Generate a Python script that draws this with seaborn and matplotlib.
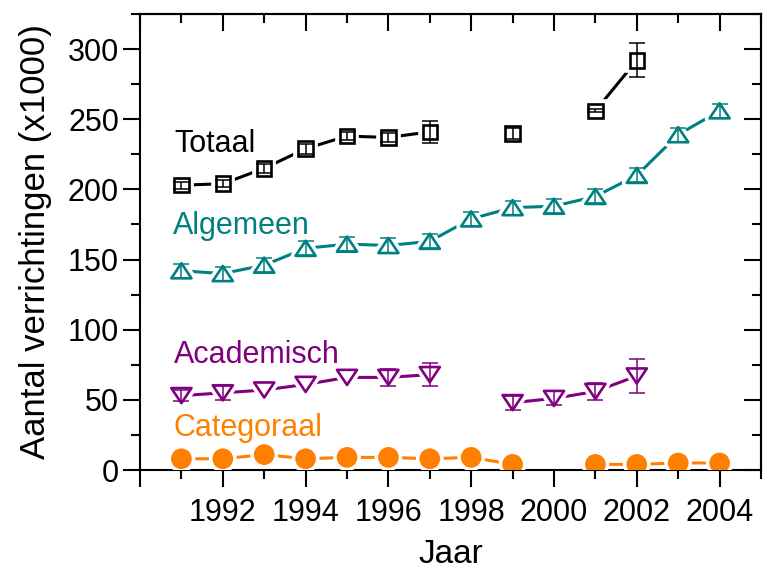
import numpy as np
import pandas as pd
import matplotlib
matplotlib.use("Agg")
import matplotlib.pyplot as plt
import matplotlib.patheffects as pe
from matplotlib.path import Path
from matplotlib.ticker import FixedLocator, MultipleLocator
import seaborn as sns

nan = np.nan

# Years on the x axis
years = list(range(1991, 2005))

# Yearly counts (x1000) per category, NaN where no figure is available
totaal = [203, 204, 215, 229, 238, 237, 241, nan, 240, nan, 256, 292, nan, nan]
totaal_err = [2.5, 2.5, 3, 3.5, 3, 3.5, 8, nan, 4, nan, 1, 12, nan, nan]

algemeen = [142, 140, 146, 158, 161, 160, 163, 179, 187, 188, 195, 210, 239, 256]
algemeen_err = [5, 5, 5, 5, 5, 5, 5, 5, 5, 5, 5, 5, 5, 5]

academisch = [53, 55, 57, 61, 66, 66, 68, nan, 48, 51, 56, 67, nan, nan]
academisch_err = [4, 5, 0, 0, 0, 6, 8, nan, 5, 5, 6, 12, nan, nan]

categoraal = [8, 8, 11, 8, 9, 9, 8, 9, 4, nan, 4, 4, 5, 5]
categoraal_err = [0] * 14

series_names = ["Totaal", "Algemeen", "Academisch", "Categoraal"]
x_tick_values = [1990, 1992, 1994, 1996, 1998, 2000, 2002, 2004]
x_tick_labels = ["", "1992", "1994", "1996", "1998", "2000", "2002", "2004"]
y_tick_values = [0, 50, 100, 150, 200, 250, 300]

# Label anchor (year, value at text baseline) for each series name
label_pos = {"Totaal": (1990.83, 227), "Algemeen": (1990.8, 168),
             "Academisch": (1990.83, 76), "Categoraal": (1990.8, 24)}


def long_frame(name, vals, errs):
    v = np.asarray(vals, dtype=float)
    # a new segment starts after every gap so lines are broken there
    seg = np.cumsum(np.isnan(v))
    return pd.DataFrame({"series": name, "year": years, "value": v,
                         "err": np.asarray(errs, dtype=float), "seg": seg})


df = pd.concat([
    long_frame("Totaal", totaal, totaal_err),
    long_frame("Algemeen", algemeen, algemeen_err),
    long_frame("Academisch", academisch, academisch_err),
    long_frame("Categoraal", categoraal, categoraal_err),
], ignore_index=True)

tri_up = Path([(0, 0.75), (-1, -0.75), (1, -0.75), (0, 0.75)], closed=True)
tri_down = Path([(0, -0.75), (-1, 0.75), (1, 0.75), (0, -0.75)], closed=True)

style = {
    "Totaal": dict(color="#000000", marker="s", ms=10.5, face="white", err=True),
    "Algemeen": dict(color="#008080", marker=tri_up, ms=14.5, face="white", err=True),
    "Academisch": dict(color="#800080", marker=tri_down, ms=14.5, face="white", err=True),
    "Categoraal": dict(color="#FF8000", marker="o", ms=13, face="#FF8000", err=False),
}

sns.set_theme(style="ticks")
plt.rcParams["font.family"] = ["Liberation Sans", "DejaVu Sans"]
plt.rcParams["text.color"] = "black"
plt.rcParams["axes.labelcolor"] = "black"
FS = 22

fig = plt.figure(figsize=(7.63, 5.72), dpi=100)
ax = fig.add_axes([140 / 763, 102 / 572, 621 / 763, 456 / 572])

halo = [pe.Stroke(linewidth=7, foreground="white"), pe.Normal()]

for name in series_names:
    st = style[name]
    d = df[df["series"] == name].dropna(subset=["value"])
    sns.lineplot(data=d, x="year", y="value", units="seg", estimator=None,
                 color=st["color"], linewidth=2.2, ax=ax, legend=False,
                 zorder=2)
    sns.lineplot(data=d, x="year", y="value", units="seg", estimator=None,
                 color=st["color"], linestyle="none", marker=st["marker"],
                 markersize=st["ms"], markerfacecolor=st["face"],
                 markeredgecolor=st["color"], markeredgewidth=1.9,
                 path_effects=halo, ax=ax, legend=False, zorder=3)
    if st["err"]:
        e = d[d["err"] > 0]
        ax.errorbar(e["year"], e["value"], yerr=e["err"], fmt="none",
                    ecolor=st["color"], elinewidth=1.1, capsize=5.5,
                    capthick=1.1, zorder=4)
    lx, ly = label_pos[name]
    ax.text(lx, ly, name, color=st["color"], fontsize=FS, va="baseline",
            ha="left")

ax.set_xlim(1990, 2005)
ax.set_ylim(0, 325)
ax.xaxis.set_major_locator(FixedLocator(x_tick_values))
ax.set_xticklabels(x_tick_labels)
ax.xaxis.set_minor_locator(MultipleLocator(1))
ax.yaxis.set_major_locator(FixedLocator(y_tick_values))
ax.yaxis.set_minor_locator(MultipleLocator(25))

ax.set_xlabel("Jaar", fontsize=24, labelpad=8, color="black")
ax.set_ylabel("Aantal verrichtingen (x1000)", fontsize=25, labelpad=11,
              color="black")

for sp in ax.spines.values():
    sp.set_visible(True)
    sp.set_linewidth(1.5)
    sp.set_color("black")

ax.tick_params(axis="both", which="major", direction="out", length=12.2,
               width=1.5, labelsize=FS, colors="black")
ax.tick_params(axis="both", which="minor", direction="out", length=6.5,
               width=1.5, colors="black")
ax.tick_params(axis="x", which="major", pad=8)
ax.tick_params(axis="y", which="major", pad=3)

# mirrored inward ticks on top and right
top = ax.secondary_xaxis("top")
top.xaxis.set_major_locator(FixedLocator(x_tick_values))
top.xaxis.set_minor_locator(MultipleLocator(1))
top.tick_params(which="major", direction="in", length=12.2, width=1.5,
                labeltop=False, colors="black")
top.tick_params(which="minor", direction="in", length=6.5, width=1.5,
                colors="black")
top.spines["top"].set_linewidth(1.5)

right = ax.secondary_yaxis("right")
right.yaxis.set_major_locator(FixedLocator(y_tick_values))
right.yaxis.set_minor_locator(MultipleLocator(25))
right.tick_params(which="major", direction="in", length=12.2, width=1.5,
                  labelright=False, colors="black")
right.tick_params(which="minor", direction="in", length=6.5, width=1.5,
                  colors="black")
right.spines["right"].set_linewidth(1.5)

ax.grid(False)
fig.savefig("out.png", dpi=100, facecolor="white")
